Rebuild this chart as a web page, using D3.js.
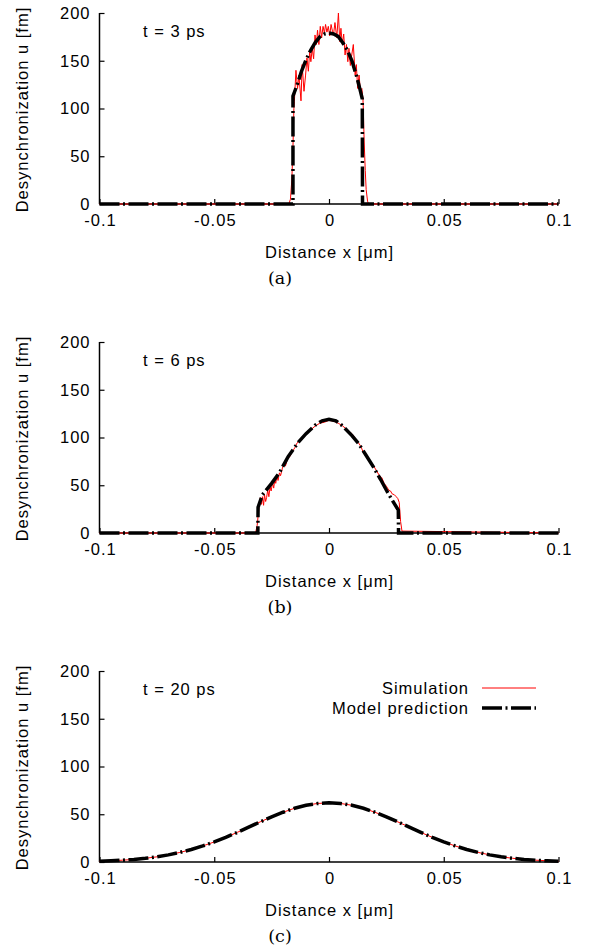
<!DOCTYPE html>
<html><head><meta charset="utf-8">
<script src="https://cdn.jsdelivr.net/npm/d3@7"></script>
<style>
body{margin:0;background:#fff;}
text{font-family:"Liberation Sans",Arial,sans-serif;letter-spacing:1px;}
</style></head>
<body><svg id="c" width="590" height="949"></svg>
<script>
// ---------- data ----------
const xTicks = [-0.1, -0.05, 0, 0.05, 0.1];
const xTickLabels = ["-0.1", "-0.05", "0", "0.05", "0.1"];
const yTicks = [0, 50, 100, 150, 200];
const panelTimes = ["t = 3 ps", "t = 6 ps", "t = 20 ps"];
const panelTags = ["(a)", "(b)", "(c)"];
const seriesNames = ["Simulation", "Model prediction"];

// panel (a) t = 3 ps
const simA_x = [-0.1,-0.0175,-0.0168,-0.0162,-0.0157,-0.0153,-0.0151,-0.0144,-0.0137,-0.0131,-0.0122,-0.0117,-0.0109,-0.0102,-0.0096,-0.0090,-0.0084,-0.0079,-0.0073,-0.0067,-0.0061,-0.0055,-0.0050,-0.0044,-0.0038,-0.0032,-0.0026,-0.0020,-0.0015,-0.0009,-0.0003,0.0003,0.0009,0.0015,0.0020,0.0026,0.0034,0.0041,0.0047,0.0052,0.0058,0.0064,0.0070,0.0076,0.0082,0.0087,0.0093,0.0099,0.0106,0.0114,0.0119,0.0125,0.0131,0.0137,0.0143,0.0148,0.0150,0.0153,0.0158,0.0162,0.0168,0.0172,0.1];
const simA_u = [0,0,5,25,60,100,107,140,121,135,108,146,118,135,153,139,160,149,163,152,177,167,182,167,186,174,186,179,188,180,186,176,188,181,178,190,174,200,170,184,167,178,156,167,149,163,145,156,167,135,146,121,135,118,121,110,95,67,35,15,3,0,0];
const modA_x = [-0.1,-0.0157,-0.0157,-0.014,-0.012,-0.010,-0.008,-0.006,-0.004,-0.002,0,0.002,0.004,0.006,0.008,0.010,0.012,0.0135,0.0145,0.0146,0.1];
const modA_u = [0,0,113,124,139,151,161,169,175,178,179,178,175.5,169,161,150,134,120,110,0,0];

// panel (b) t = 6 ps
const simB_x = [-0.1,-0.0320,-0.0313,-0.0307,-0.0303,-0.0299,-0.0294,-0.0290,-0.0285,-0.0281,-0.0276,-0.0272,-0.0267,-0.0262,-0.0257,-0.0252,-0.0246,-0.0241,-0.0236,-0.0232,-0.0227,-0.0222,-0.0216,-0.0211,-0.0203,-0.0195,-0.0190,-0.0180,-0.0170,-0.0162,-0.0155,-0.0147,-0.0140,-0.0130,-0.0120,-0.0110,-0.0100,-0.0080,-0.0060,-0.0040,-0.0020,0,0.0020,0.0040,0.0060,0.0080,0.0100,0.0110,0.0120,0.0130,0.0140,0.0150,0.0160,0.0170,0.0180,0.0190,0.0200,0.0210,0.0220,0.0230,0.0240,0.0250,0.0260,0.0268,0.0275,0.0285,0.0293,0.0300,0.0306,0.0312,0.0318,0.1];
const simB_u = [0,0,8,22,33,37,30,38,29,40,33,37,45,38,48,44,53,47,56,52,60,55,63,60,68,73,70,78,80,85,87,90,94,96,99,101,104,108,112,115,116,118,117,115,112,108,104,101,96,94,90,84,81,77,74,72,68,64,60,58,52,49,45,44,41,40,38,36,32,12,2,0,0];
const modB_x = [-0.1,-0.0310,-0.0309,-0.0290,-0.0250,-0.0214,-0.0178,-0.0134,-0.0100,-0.0060,-0.0030,0,0.0030,0.0060,0.0100,0.0128,0.0160,0.0194,0.0225,0.0252,0.0274,0.0302,0.0303,0.1];
const modB_u = [0,0,27,40,52,64,80,95,104,113,117.5,119,117.5,112,102,94,82,69,56,44,35,24,0,0];

// panel (c) t = 20 ps
const simC_x = [-0.1,-0.095,-0.09,-0.085,-0.08,-0.075,-0.07,-0.065,-0.06,-0.055,-0.05,-0.045,-0.04,-0.035,-0.03,-0.025,-0.02,-0.015,-0.01,-0.005,0,0.005,0.01,0.015,0.02,0.025,0.03,0.035,0.04,0.045,0.05,0.055,0.06,0.065,0.07,0.075,0.08,0.085,0.09,0.095,0.1];
const simC_u = [0.8,1.3,1.9,2.7,3.9,5.4,7.5,10.0,13.1,16.8,21.0,25.8,31.0,36.5,42.0,47.3,52.1,56.3,59.4,61.3,62.0,61.3,59.4,56.3,52.1,47.3,42.0,36.5,31.0,25.8,21.0,16.8,13.1,10.0,7.5,5.4,3.9,2.7,1.9,1.3,0.8];
const modC_x = simC_x;
const modC_u = [0.8,1.25,1.87,2.7,3.9,5.45,7.45,10.0,13.1,16.8,21.0,25.8,31.0,36.5,42.0,47.3,52.1,56.3,59.4,61.3,62.0,61.3,59.4,56.3,52.1,47.3,42.0,36.5,31.0,25.8,21.0,16.8,13.1,10.0,7.45,5.45,3.9,2.7,1.87,1.25,0.8];

const panels = [
  {sim:[simA_x,simA_u], mod:[modA_x,modA_u]},
  {sim:[simB_x,simB_u], mod:[modB_x,modB_u]},
  {sim:[simC_x,simC_u], mod:[modC_x,modC_u]}
];

// ---------- drawing ----------
const svg = d3.select("#c");
const left = 99.5, right = 558.5, plotH = 191, step = 329, top0 = 13;
const dash = "20,3.5,2,3.5";
const fs = "16.5px";

panels.forEach((p, i) => {
  const top = top0 + step * i, bottom = top + plotH;
  const x = d3.scaleLinear().domain([-0.1, 0.1]).range([left, right]);
  const y = d3.scaleLinear().domain([0, 200]).range([bottom, top]);
  const g = svg.append("g");

  const line = d3.line().x(d => x(d[0])).y(d => y(d[1]));
  const simPts = p.sim[0].map((v, k) => [v, p.sim[1][k]]);
  const modPts = p.mod[0].map((v, k) => [v, p.mod[1][k]]);

  // axes
  const yAx = d3.axisLeft(y).tickValues(yTicks).tickSize(-5).tickPadding(10).tickFormat(d3.format("d"));
  const gy = g.append("g").attr("transform", `translate(${left},0)`).call(yAx);
  const xAx = d3.axisBottom(x).tickValues(xTicks).tickSize(-5).tickPadding(10).tickFormat((d, k) => xTickLabels[k]);
  const gx = g.append("g").attr("transform", `translate(0,${bottom})`).call(xAx);
  [gx, gy].forEach(a => {
    a.select(".domain").attr("stroke", "#000").attr("stroke-width", 1.5);
    a.selectAll(".tick line").attr("stroke", "#000").attr("stroke-width", 1.2);
    a.selectAll(".tick text").attr("fill", "#000").style("font-size", fs).style("font-family", "Liberation Sans, Arial, sans-serif");
  });
  gy.select(".domain").attr("d", `M0,${bottom}V${top}`);
  gx.select(".domain").attr("d", `M${left},0H${right}`);
  gx.selectAll(".tick text").attr("dy", "0.72em").attr("dx", "0.5");
  gy.selectAll(".tick text").attr("dx", "1");

  // series
  g.append("path").datum(simPts).attr("d", line).attr("fill", "none")
    .attr("stroke", "#ff0000").attr("stroke-width", 1);
  g.append("path").datum(modPts).attr("d", line).attr("fill", "none")
    .attr("stroke", "#000").attr("stroke-width", 3.5).attr("stroke-dasharray", dash);

  // labels
  g.append("text").attr("x", 143).attr("y", top + 24).style("font-size", fs).text(panelTimes[i]);
  g.append("text").attr("transform", `translate(28,${(top + bottom) / 2 + 1}) rotate(-90)`)
    .attr("text-anchor", "middle").style("font-size", fs).text("Desynchronization u [fm]");
  g.append("text").attr("x", (left + right) / 2 + 0.5).attr("y", bottom + 54).attr("text-anchor", "middle")
    .style("font-size", fs).text("Distance x [\u03bcm]");
  g.append("text").attr("x", 280).attr("y", bottom + 80).attr("text-anchor", "middle")
    .style("font-size", "17.5px").style("letter-spacing", "0px").style("font-family", "'DejaVu Serif','Liberation Serif',serif").text(panelTags[i]);

  if (i === 2) {
    const lg = g.append("g");
    lg.append("text").attr("x", 469).attr("y", top + 23).attr("text-anchor", "end").style("font-size", fs).text(seriesNames[0]);
    lg.append("line").attr("x1", 482).attr("x2", 536).attr("y1", top + 17).attr("y2", top + 17)
      .attr("stroke", "#ff0000").attr("stroke-width", 1);
    lg.append("text").attr("x", 469).attr("y", top + 43).attr("text-anchor", "end").style("font-size", fs).text(seriesNames[1]);
    lg.append("line").attr("x1", 482).attr("x2", 536).attr("y1", top + 37).attr("y2", top + 37)
      .attr("stroke", "#000").attr("stroke-width", 3.5).attr("stroke-dasharray", dash);
  }
});
</script></body></html>
